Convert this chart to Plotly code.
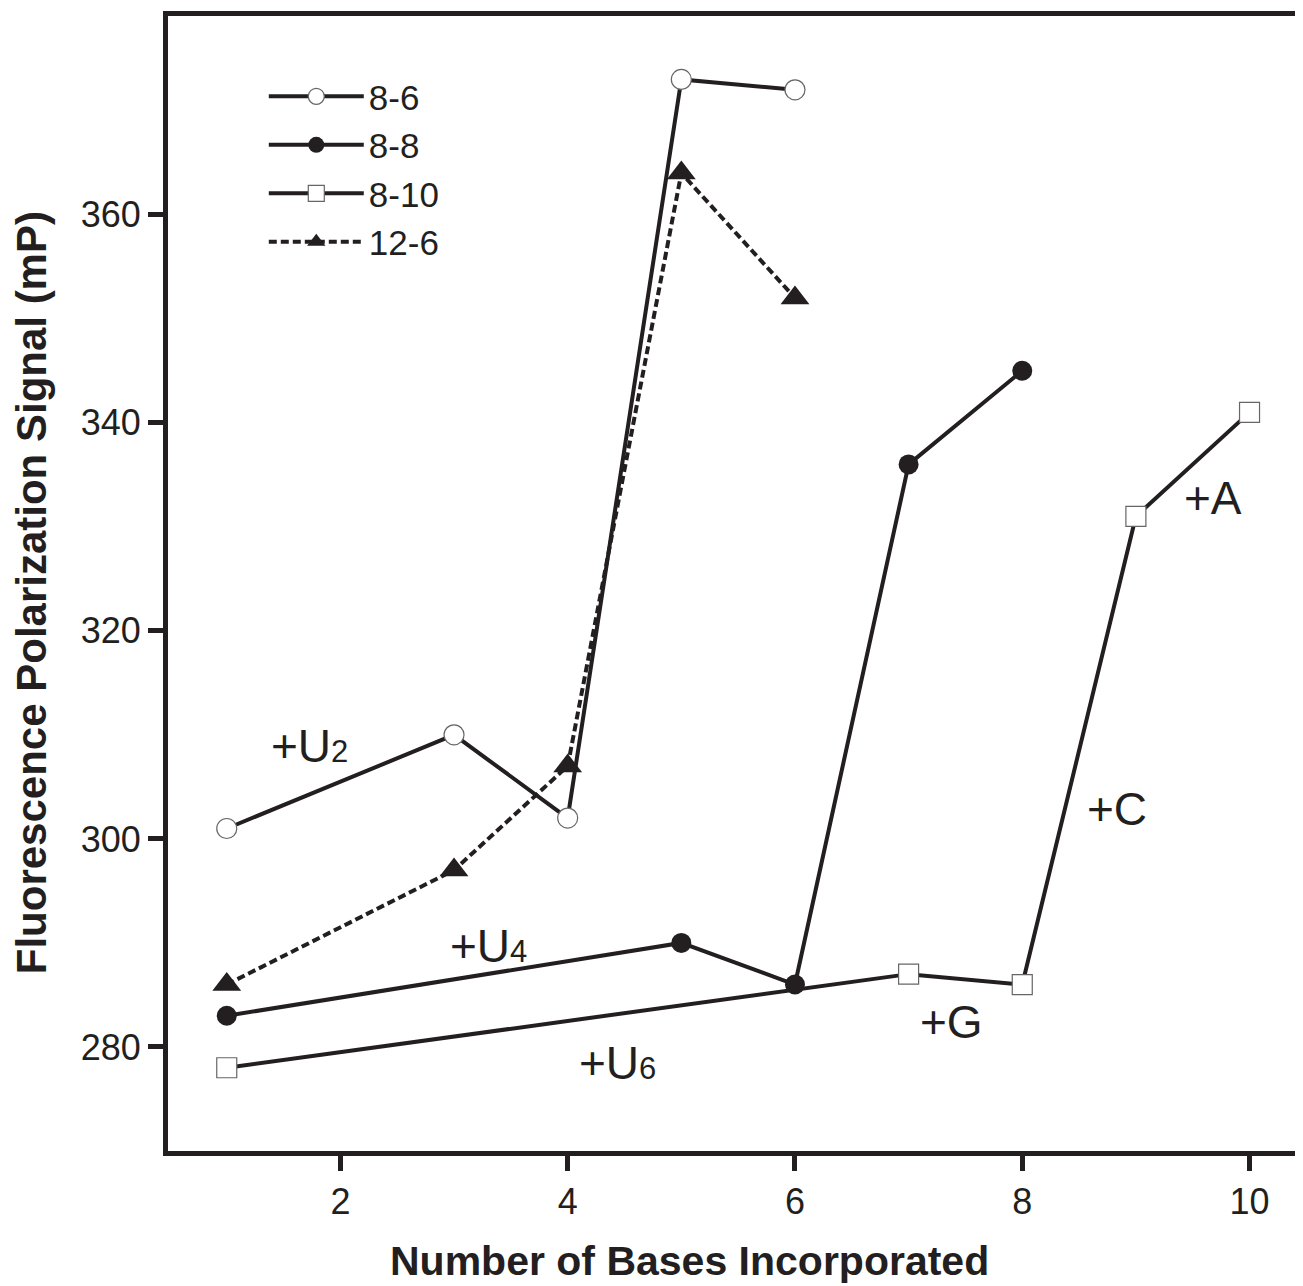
import plotly.graph_objects as go

# ---- data ----
x_86 = [1, 3, 4, 5, 6]
y_86 = [301, 310, 302, 373, 372]

x_88 = [1, 5, 6, 7, 8]
y_88 = [283, 290, 286, 336, 345]

x_810 = [1, 7, 8, 9, 10]
y_810 = [278, 287, 286, 331, 341]

x_126 = [1, 3, 4, 5, 6]
y_126 = [286, 297, 307, 364, 352]

SUB = '<span style="font-size:31px">{}</span>'
ann_text = ["+U" + SUB.format(2), "+U" + SUB.format(4), "+U" + SUB.format(6), "+G", "+C", "+A"]
ann_x = [1.73, 3.30, 4.44, 7.38, 8.83, 9.68]
ann_y = [308.9, 289.7, 278.5, 282.4, 302.9, 332.8]

x_ticks = [2, 4, 6, 8, 10]
y_ticks = [280, 300, 320, 340, 360]

x_title = "Number of Bases Incorporated"
y_title = "Fluorescence Polarization Signal (mP)"

INK = "#231f20"
FONT = "Liberation Sans, Arial, Helvetica, sans-serif"

fig = go.Figure()
fig.add_trace(go.Scatter(x=x_86, y=y_86, name="8-6", mode="lines+markers",
                         line=dict(color=INK, width=4),
                         marker=dict(symbol="circle", size=20, color="white",
                                     line=dict(color="#666", width=1.2))))
fig.add_trace(go.Scatter(x=x_88, y=y_88, name="8-8", mode="lines+markers",
                         line=dict(color=INK, width=4),
                         marker=dict(symbol="circle", size=20, color=INK,
                                     line=dict(color=INK, width=0))))
fig.add_trace(go.Scatter(x=x_810, y=y_810, name="8-10", mode="lines+markers",
                         line=dict(color=INK, width=4),
                         marker=dict(symbol="square", size=20, color="white",
                                     line=dict(color="#666", width=1.2))))
fig.add_trace(go.Scatter(x=x_126, y=y_126, name="12-6", mode="lines+markers",
                         line=dict(color=INK, width=4, dash="8px,4px"),
                         marker=dict(symbol="triangle-up", size=25, color=INK,
                                     line=dict(color=INK, width=0))))

for t, ax_, ay_ in zip(ann_text, ann_x, ann_y):
    fig.add_annotation(x=ax_, y=ay_, text=t, showarrow=False,
                       font=dict(size=46, color=INK, family=FONT))

# axis titles as paper annotations (reference x title sits left of centre)
fig.add_annotation(xref="paper", yref="paper", x=0.463, y=-0.097,
                   xanchor="center", yanchor="middle", showarrow=False,
                   text="<b>" + x_title + "</b>",
                   font=dict(size=41, color=INK, family=FONT))
fig.add_annotation(xref="paper", yref="paper", x=-0.121, y=0.492,
                   xanchor="center", yanchor="middle", showarrow=False, textangle=-90,
                   text="<b>" + y_title + "</b>",
                   font=dict(size=42, color=INK, family=FONT))

# page body adds an 8px margin, so the figure is offset by (8, 8)
fig.update_layout(
    width=1295, height=1278,
    margin=dict(l=160, r=3, t=7, b=135),
    paper_bgcolor="white", plot_bgcolor="white",
    font=dict(family=FONT, color=INK),
    showlegend=True,
    legend=dict(x=0.085, y=0.955, xanchor="left", yanchor="top",
                bgcolor="rgba(0,0,0,0)", font=dict(size=35, color=INK, family=FONT),
                itemwidth=95, tracegroupgap=0),
)
fig.update_xaxes(range=[0.483, 10.40], tickvals=x_ticks, ticktext=[str(v) for v in x_ticks],
                 showgrid=False, zeroline=False, showline=True, linewidth=5, linecolor=INK,
                 mirror=True, ticks="outside", ticklen=15, tickwidth=5, tickcolor=INK,
                 tickfont=dict(size=36, color=INK, family=FONT))
fig.update_yaxes(range=[270.0, 379.1], tickvals=y_ticks, ticktext=[str(v) for v in y_ticks],
                 showgrid=False, zeroline=False, showline=True, linewidth=5, linecolor=INK,
                 mirror=True, ticks="outside", ticklen=15, tickwidth=5, tickcolor=INK,
                 tickfont=dict(size=36, color=INK, family=FONT))

fig.write_html("out.html")
